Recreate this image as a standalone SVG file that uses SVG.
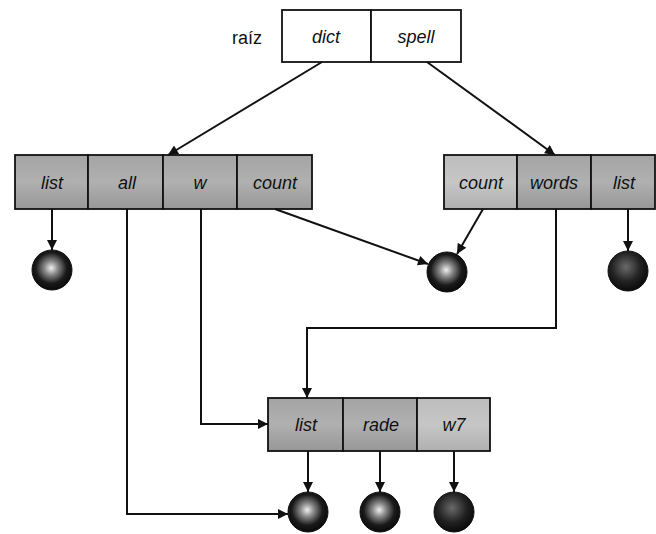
<svg xmlns="http://www.w3.org/2000/svg" width="656" height="534" viewBox="0 0 656 534">
<style>
.box{stroke:#111;stroke-width:1.8}
.rootc{fill:#fff}
.gc{fill:url(#tex)}
.lt{fill:url(#texl)}
.lbl{font-family:"Liberation Sans",Arial,sans-serif;font-style:italic;font-size:18px;fill:#111;text-anchor:middle}
.plain{font-family:"Liberation Sans",Arial,sans-serif;font-size:18px;fill:#111;text-anchor:middle}
.cn{fill:none;stroke:#111;stroke-width:2}
.ball{fill:url(#ballg);stroke:#111;stroke-width:1}
.dball{fill:url(#ballg2);stroke:#111;stroke-width:1}
</style>
<defs>
<marker id="ah" viewBox="0 0 10 10" refX="10" refY="5" markerWidth="11" markerHeight="10" markerUnits="userSpaceOnUse" orient="auto">
<path d="M0,0 L10,5 L0,10 z" fill="#111"/>
</marker>
<radialGradient id="ballg" cx="0.48" cy="0.45" r="0.55">
<stop offset="0" stop-color="#f0f0f0"/>
<stop offset="0.3" stop-color="#8a8a8a"/>
<stop offset="0.7" stop-color="#1a1a1a"/>
<stop offset="1" stop-color="#0a0a0a"/>
</radialGradient>
<radialGradient id="ballg2" cx="0.45" cy="0.4" r="0.6">
<stop offset="0" stop-color="#6a6a6a"/>
<stop offset="0.6" stop-color="#222"/>
<stop offset="1" stop-color="#0a0a0a"/>
</radialGradient>
<linearGradient id="tex" x1="0" y1="0" x2="0" y2="1">
<stop offset="0" stop-color="#a4a4a4"/>
<stop offset="0.5" stop-color="#b0b0b0"/>
<stop offset="1" stop-color="#979797"/>
</linearGradient>
<linearGradient id="texl" x1="0" y1="0" x2="0" y2="1">
<stop offset="0" stop-color="#bdbdbd"/>
<stop offset="0.5" stop-color="#c6c6c6"/>
<stop offset="1" stop-color="#b0b0b0"/>
</linearGradient>
</defs>

<g id="root">
<text class="plain" x="247" y="44">raíz</text>
<rect class="box rootc" x="282" y="10" width="89" height="52"/>
<rect class="box rootc" x="371" y="10" width="90" height="52"/>
<text class="lbl" x="326" y="43">dict</text>
<text class="lbl" x="416" y="43">spell</text>
</g>

<g id="dict-node">
<rect class="box gc" x="15" y="155" width="73" height="54"/>
<rect class="box gc" x="88" y="155" width="75" height="54"/>
<rect class="box gc" x="163" y="155" width="74" height="54"/>
<rect class="box gc" x="237" y="155" width="75" height="54"/>
<text class="lbl" x="52" y="189">list</text>
<text class="lbl" x="127" y="189">all</text>
<text class="lbl" x="200" y="189">w</text>
<text class="lbl" x="275" y="189">count</text>
</g>

<g id="spell-node">
<rect class="box lt" x="444" y="155" width="73" height="54"/>
<rect class="box gc" x="517" y="155" width="74" height="54"/>
<rect class="box gc" x="591" y="155" width="64" height="54"/>
<text class="lbl" x="481" y="189">count</text>
<text class="lbl" x="554" y="189">words</text>
<text class="lbl" x="624" y="189">list</text>
</g>

<g id="words-node">
<rect class="box gc" x="268" y="398" width="75" height="53"/>
<rect class="box gc" x="343" y="398" width="74" height="53"/>
<rect class="box lt" x="417" y="398" width="73" height="53"/>
<text class="lbl" x="306" y="431">list</text>
<text class="lbl" x="381" y="431">rade</text>
<text class="lbl" x="454" y="431">w7</text>
</g>

<g id="leaf-1"><circle class="ball" cx="52" cy="270" r="20"/></g>
<g id="leaf-2"><circle class="ball" cx="447" cy="272" r="20"/></g>
<g id="leaf-3"><circle class="dball" cx="628" cy="271" r="20"/></g>
<g id="leaf-4"><circle class="ball" cx="308" cy="512" r="20"/></g>
<g id="leaf-5"><circle class="ball" cx="380" cy="512" r="20"/></g>
<g id="leaf-6"><circle class="dball" cx="454" cy="512" r="20"/></g>

<g id="connectors">
<path class="cn" d="M322,62 L168,155" marker-end="url(#ah)"/>
<path class="cn" d="M427,62 L555,155" marker-end="url(#ah)"/>
<path class="cn" d="M52,209 L52,250" marker-end="url(#ah)"/>
<path class="cn" d="M127,209 L127,514 L288,514" marker-end="url(#ah)"/>
<path class="cn" d="M201,209 L201,424 L268,424" marker-end="url(#ah)"/>
<path class="cn" d="M275,209 L428,264" marker-end="url(#ah)"/>
<path class="cn" d="M483,209 L457,254" marker-end="url(#ah)"/>
<path class="cn" d="M556,209 L556,328 L307,328 L307,398" marker-end="url(#ah)"/>
<path class="cn" d="M628,209 L628,251" marker-end="url(#ah)"/>
<path class="cn" d="M308,451 L308,492" marker-end="url(#ah)"/>
<path class="cn" d="M380,451 L380,492" marker-end="url(#ah)"/>
<path class="cn" d="M454,451 L454,492" marker-end="url(#ah)"/>
</g>
</svg>
